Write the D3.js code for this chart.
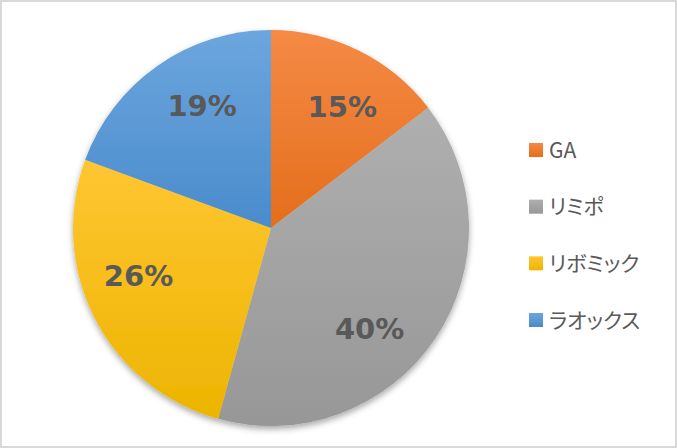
<!DOCTYPE html>
<html><head><meta charset="utf-8">
<script src="https://cdn.jsdelivr.net/npm/d3@7"></script>
<style>
html,body{margin:0;padding:0;background:#fff;}
svg{display:block;}
.leg{font-family:"Noto Sans CJK JP","Noto Sans",sans-serif;font-feature-settings:"palt";}
</style>
</head><body>
<svg id="c" width="677" height="448"></svg>
<script>
const categories = ["GA", "リミポ", "リボミック", "ラオックス"];
const values = [14.6, 39.7, 26.3, 19.4];
const labels = ["15%", "40%", "26%", "19%"];
const topColors = ["#F58A45", "#AFAFAF", "#FFC633", "#6CA6DE"];
const botColors = ["#E46E1C", "#979797", "#EDB400", "#4A8BCC"];

const W = 677, H = 448;
const svg = d3.select("#c");
const defs = svg.append("defs");

const f = defs.append("filter").attr("id","sh").attr("x","-20%").attr("y","-20%").attr("width","140%").attr("height","140%");
f.append("feDropShadow").attr("dx",0).attr("dy",3).attr("stdDeviation",3).attr("flood-color","#000").attr("flood-opacity",0.35);

categories.forEach((c,i)=>{
  const g = defs.append("linearGradient").attr("id","g"+i).attr("x1",0).attr("y1",0).attr("x2",0).attr("y2",1);
  g.append("stop").attr("offset","0%").attr("stop-color",topColors[i]);
  g.append("stop").attr("offset","100%").attr("stop-color",botColors[i]);
});

svg.append("rect").attr("x",1).attr("y",1).attr("width",W-2).attr("height",H-2)
  .attr("fill","#fff").attr("stroke","#D9D9D9").attr("stroke-width",2);

const cx = 271, cy = 228, r = 198;
const pie = d3.pie().sort(null).value(d=>d);
const arcs = pie(values);
const arc = d3.arc().innerRadius(0).outerRadius(r);
const lr = r*0.71;
function labelPos(d){
  const a = d.startAngle + 0.58*(d.endAngle - d.startAngle);
  return [lr*Math.sin(a), -lr*Math.cos(a)];
}

const g = svg.append("g").attr("transform",`translate(${cx},${cy})`);
const pg = g.append("g").attr("filter","url(#sh)");
pg.selectAll("path").data(arcs).enter().append("path")
  .attr("d",arc).attr("fill",(d,i)=>`url(#g${i})`);

g.selectAll("text.lbl").data(arcs).enter().append("text")
  .attr("class","lbl")
  .attr("transform",d=>`translate(${labelPos(d)})`)
  .attr("text-anchor","middle").attr("dy","0.36em")
  .attr("font-family","'DejaVu Sans',Verdana,sans-serif")
  .attr("font-weight","bold").attr("font-size",29)
  .attr("fill","#595959")
  .text((d,i)=>labels[i]);

const y = d3.scalePoint().domain(categories).range([150,320]);
const lg = svg.append("g");
categories.forEach((c,i)=>{
  lg.append("rect").attr("x",529).attr("y",y(c)-7).attr("width",14).attr("height",14)
    .attr("fill",`url(#g${i})`);
  lg.append("text").attr("class","leg").attr("x",549).attr("y",y(c)).attr("dy","0.36em")
    .attr("font-size",21).attr("fill","#595959").text(c);
});
</script>
</body></html>
